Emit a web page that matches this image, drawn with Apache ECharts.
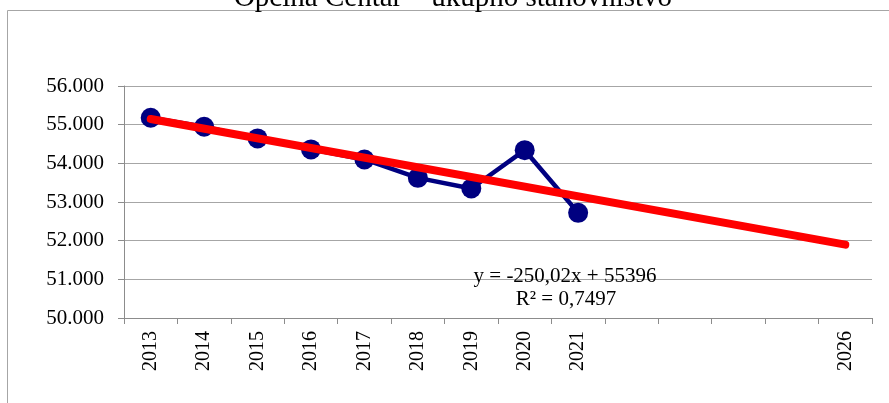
<!DOCTYPE html>
<html lang="hr">
<head>
    <meta charset="UTF-8">
    <script type="text/javascript" src="https://cdn.jsdelivr.net/npm/echarts@6/dist/echarts.min.js"></script>
    <title>Općina Centar</title>
    <style>
        html, body { margin: 0; padding: 0; background: #fff; }
    </style>
</head>
<body>
<div id="chart" style="width: 889px;height:403px;"></div>
<script type="text/javascript">
    // podaci
    var years = ['2013','2014','2015','2016','2017','2018','2019','2020','2021','2022','2023','2024','2025','2026'];
    var tickLabels = ['2013','2014','2015','2016','2017','2018','2019','2020','2021','','','','','2026'];
    var population = [55180, 54946, 54645, 54360, 54100, 53625, 53350, 54340, 52720];
    // linearni trend (y = -250,02x + 55396), krajnje tocke
    var trend = [55146, null, null, null, null, null, null, null, null, null, null, null, null, 51896];
    var titleText = 'Općina Centar – ukupno stanovništvo';
    var trendText = ['y = -250,02x + 55396', 'R² = 0,7497'];

    var serif = '"Liberation Serif", "Times New Roman", serif';
    var chart = echarts.init(document.getElementById('chart'));

    chart.setOption({
        animation: false,
        grid: { left: 124, right: 17, top: 86, bottom: 85 },
        graphic: [
            {
                type: 'rect',
                shape: { x: 7.5, y: 10.5, width: 1000, height: 1000 },
                style: { fill: 'none', stroke: '#a6a6a6', lineWidth: 1 },
                silent: true
            },
            {
                type: 'text',
                style: { text: titleText, x: 453, y: -2, font: '29px ' + serif, fill: '#000', textAlign: 'center', textVerticalAlign: 'middle' },
                silent: true
            },
            {
                type: 'text',
                style: { text: trendText[0], x: 565, y: 276, font: '21px ' + serif, fill: '#000', textAlign: 'center', textVerticalAlign: 'middle' },
                silent: true, z: 10
            },
            {
                type: 'text',
                style: { text: trendText[1], x: 566, y: 299, font: '21px ' + serif, fill: '#000', textAlign: 'center', textVerticalAlign: 'middle' },
                silent: true, z: 10
            }
        ],
        xAxis: {
            type: 'category',
            data: years,
            boundaryGap: true,
            axisLine: { lineStyle: { color: '#8c8c8c' } },
            axisTick: { show: true, interval: 0, length: 6, lineStyle: { color: '#8c8c8c' } },
            axisLabel: {
                interval: 0,
                rotate: 90,
                margin: 13,
                color: '#000',
                fontFamily: serif,
                fontSize: 20,
                formatter: function (v, i) { return tickLabels[i]; }
            },
            splitLine: { show: false }
        },
        yAxis: {
            type: 'value',
            min: 50000,
            max: 56000,
            interval: 1000,
            axisLine: { show: true, lineStyle: { color: '#8c8c8c' } },
            axisTick: { show: true, length: 6, lineStyle: { color: '#8c8c8c' } },
            axisLabel: {
                margin: 20,
                color: '#000',
                fontFamily: serif,
                fontSize: 21,
                formatter: function (v) { return (v / 1000).toFixed(3); }
            },
            splitLine: { lineStyle: { color: '#a6a6a6', width: 1 } }
        },
        series: [
            {
                name: 'stanovništvo',
                type: 'line',
                data: population,
                symbol: 'circle',
                symbolSize: 20,
                itemStyle: { color: '#000080' },
                lineStyle: { color: '#000080', width: 4.5 },
                z: 2
            },
            {
                name: 'trend',
                type: 'line',
                data: trend,
                connectNulls: true,
                showSymbol: false,
                symbol: 'none',
                lineStyle: { color: '#ff0000', width: 8, cap: 'round' },
                z: 3
            }
        ]
    });
</script>
</body>
</html>
